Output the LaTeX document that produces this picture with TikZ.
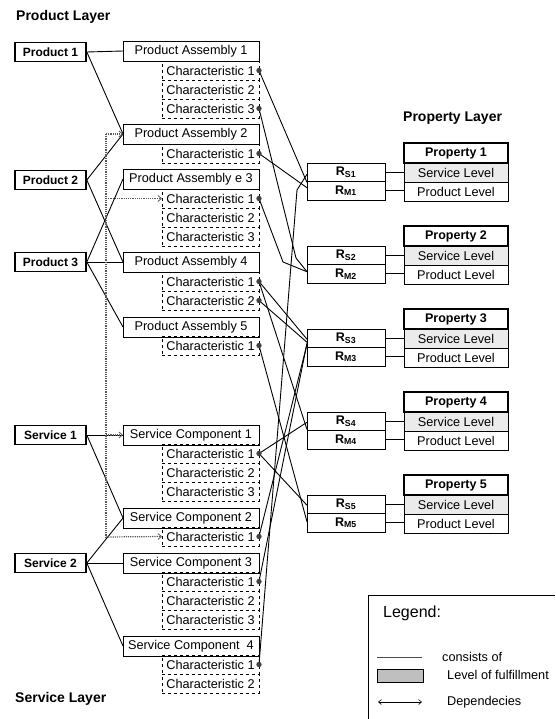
\documentclass[tikz,border=0pt]{standalone}
\usepackage{fontspec}
\setmainfont{Liberation Sans}
\usetikzlibrary{arrows.meta,positioning}

\begin{document}
\begin{tikzpicture}[x=1pt,y=-1pt]
\tikzstyle{layer}=[anchor=west,inner sep=0pt,font=\fontsize{14}{16}\selectfont\bfseries]
\tikzstyle{top}=[draw,line width=1.6pt,minimum width=71pt,minimum height=19pt,inner sep=0pt,font=\fontsize{12}{14}\selectfont\bfseries]
\tikzstyle{part}=[draw,line width=0.9pt,anchor=north west,minimum width=136pt,minimum height=20pt,inner sep=0pt,outer sep=0pt,font=\fontsize{12.7}{14}\selectfont]
\tikzstyle{feat}=[draw,dashed,line width=0.7pt,anchor=north west,minimum width=97pt,minimum height=19pt,inner sep=0pt,outer sep=0pt,font=\fontsize{12.7}{14}\selectfont]
\tikzstyle{rbox}=[draw,line width=0.9pt,anchor=north west,minimum width=78pt,minimum height=18.5pt,inner sep=0pt,outer sep=0pt,font=\fontsize{12.5}{14}\selectfont\bfseries]
\tikzstyle{prop}=[draw,line width=1.5pt,anchor=north west,minimum width=104pt,minimum height=20pt,inner sep=0pt,outer sep=0pt,font=\fontsize{12.5}{14}\selectfont\bfseries]
\tikzstyle{lvl}=[draw,line width=0.9pt,minimum width=104pt,minimum height=19pt,inner sep=0pt,outer sep=0pt,font=\fontsize{12.7}{14}\selectfont]
\tikzstyle{met}=[lvl,fill=black!8]
\tikzstyle{link}=[line width=0.9pt]
\tikzstyle{dep}=[densely dotted,line width=1.2pt,black!65,-{Straight Barb[length=3.5pt,width=6pt,line width=0.8pt]}]
\tikzstyle{pin}=[fill=black!75]
\tikzstyle{key}=[anchor=west,inner sep=0pt,font=\fontsize{12.7}{14}\selectfont]
\useasboundingbox (0,0) rectangle (555,719);

% layer titles
\node[layer] (plabel) at (16,17) {Product Layer};
\node[layer] (slabel) at (15,699) {Service Layer};
\node[layer] (qlabel) at (403,118) {Property Layer};

% products and services
\node[top] (prod1) at (50.5,52) {Product 1};
\node[top] (prod2) at (50.5,180) {Product 2};
\node[top] (prod3) at (50.5,262) {Product 3};
\node[top] (serv1) at (50.5,435) {Service 1};
\node[top] (serv2) at (50.5,563) {Service 2};

% assemblies and their characteristics
\node[part] (pa1) at (123,41) {Product Assembly 1};
\node[feat] (pa1c1) at (162,61) {Characteristic 1};
\node[feat] (pa1c2) at (162,80) {Characteristic 2};
\node[feat] (pa1c3) at (162,99) {Characteristic 3};
\node[part] (pa2) at (123,124) {Product Assembly 2};
\node[feat] (pa2c1) at (162,144) {Characteristic 1};
\node[part] (pa3) at (123,169) {Product Assembly e 3};
\node[feat] (pa3c1) at (162,189) {Characteristic 1};
\node[feat] (pa3c2) at (162,208) {Characteristic 2};
\node[feat] (pa3c3) at (162,227) {Characteristic 3};
\node[part] (pa4) at (123,252) {Product Assembly 4};
\node[feat] (pa4c1) at (162,272) {Characteristic 1};
\node[feat] (pa4c2) at (162,291) {Characteristic 2};
\node[part] (pa5) at (123,317) {Product Assembly 5};
\node[feat] (pa5c1) at (162,336) {Characteristic 1};

% service components and their characteristics
\node[part] (sc1) at (123,425) {Service Component 1};
\node[feat] (sc1c1) at (162,444) {Characteristic 1};
\node[feat] (sc1c2) at (162,463) {Characteristic 2};
\node[feat] (sc1c3) at (162,482) {Characteristic 3};
\node[part] (sc2) at (123,508) {Service Component 2};
\node[feat] (sc2c1) at (162,527) {Characteristic 1};
\node[part] (sc3) at (123,553) {Service Component 3};
\node[feat] (sc3c1) at (162,572) {Characteristic 1};
\node[feat] (sc3c2) at (162,591) {Characteristic 2};
\node[feat] (sc3c3) at (162,610) {Characteristic 3};
\node[part] (sc4) at (123,636) {Service Component \ 4};
\node[feat] (sc4c1) at (162,655) {Characteristic 1};
\node[feat] (sc4c2) at (162,674) {Characteristic 2};

% properties with their two levels
\node[prop] (q1) at (404,143) {Property 1};
\node[met,below=0pt of q1] (q1s) {Service Level};
\node[lvl,below=0pt of q1s] (q1p) {Product Level};
\node[prop] (q2) at (404,226) {Property 2};
\node[met,below=0pt of q2] (q2s) {Service Level};
\node[lvl,below=0pt of q2s] (q2p) {Product Level};
\node[prop] (q3) at (404,309) {Property 3};
\node[met,below=0pt of q3] (q3s) {Service Level};
\node[lvl,below=0pt of q3s] (q3p) {Product Level};
\node[prop] (q4) at (404,392) {Property 4};
\node[met,below=0pt of q4] (q4s) {Service Level};
\node[lvl,below=0pt of q4s] (q4p) {Product Level};
\node[prop] (q5) at (404,475) {Property 5};
\node[met,below=0pt of q5] (q5s) {Service Level};
\node[lvl,below=0pt of q5s] (q5p) {Product Level};

% rating boxes
\node[rbox] (rs1) at (307,163) {R\textsubscript{S1}};
\node[rbox,below=0pt of rs1] (rm1) {R\textsubscript{M1}};
\node[rbox] (rs2) at (307,246) {R\textsubscript{S2}};
\node[rbox,below=0pt of rs2] (rm2) {R\textsubscript{M2}};
\node[rbox] (rs3) at (307,329) {R\textsubscript{S3}};
\node[rbox,below=0pt of rs3] (rm3) {R\textsubscript{M3}};
\node[rbox] (rs4) at (307,412) {R\textsubscript{S4}};
\node[rbox,below=0pt of rs4] (rm4) {R\textsubscript{M4}};
\node[rbox] (rs5) at (307,495) {R\textsubscript{S5}};
\node[rbox,below=0pt of rs5] (rm5) {R\textsubscript{M5}};

\draw[link] (rs1.east) -- (rs1.east -| q1s.west);
\draw[link] (rm1.east) -- (rm1.east -| q1p.west);
\draw[link] (rs2.east) -- (rs2.east -| q2s.west);
\draw[link] (rm2.east) -- (rm2.east -| q2p.west);
\draw[link] (rs3.east) -- (rs3.east -| q3s.west);
\draw[link] (rm3.east) -- (rm3.east -| q3p.west);
\draw[link] (rs4.east) -- (rs4.east -| q4s.west);
\draw[link] (rm4.east) -- (rm4.east -| q4p.west);
\draw[link] (rs5.east) -- (rs5.east -| q5s.west);
\draw[link] (rm5.east) -- (rm5.east -| q5p.west);

% consists of
\draw[link] (prod1.east) -- (pa1.west);
\draw[link] (prod1.east) -- (pa2.west);
\draw[link] (prod2.east) -- (pa2.west);
\draw[link] (prod2.east) -- (pa4.west);
\draw[link] (prod3.east) -- (pa3.west);
\draw[link] (prod3.east) -- (pa4.west);
\draw[link] (prod3.east) -- (pa5.west);
\draw[link] (serv1.east) -- (sc1.west);
\draw[link] (serv1.east) -- (sc2.west);
\draw[link] (serv2.east) -- (sc2.west);
\draw[link] (serv2.east) -- (sc3.west);
\draw[link] (serv2.east) -- (sc4.west);

% dependencies
\coordinate (bt) at (106,134);
\coordinate (bb) at (106,537);
\draw[dep,-] (bt) -- (bb);
\draw[dep] (bt) -- (pa2.west);
\draw[dep] (pa3c1.west -| bt) -- (pa3c1.west);
\draw[dep] (sc1.west -| bt) -- (sc1.west);
\draw[dep] (bb) -- (sc2c1.west);

% characteristics to ratings
\draw[link] (pa1c1.east) -- ([yshift=-1pt]rm1.north west);
\draw[link] (pa2c1.east) -- ([yshift=3pt]rm1.west);
\draw[link] (pa1c3.east) -- (296,258) -- ([yshift=2pt]rm2.west);
\draw[link] (pa3c1.east) -- (283,262) -- ([yshift=2pt]rm2.west);
\draw[link] (pa4c1.east) -- ([yshift=-1pt]rs3.west);
\draw[link] (pa4c1.east) -- ([yshift=1pt]rm4.north west);
\draw[link] (pa4c2.east) -- ([yshift=-4pt]rs3.west);
\draw[link] (pa5c1.east) -- ([yshift=1pt]rm5.west);
\draw[link] (sc1c1.east) -- ([yshift=-1pt]rs4.west);
\draw[link] (sc1c1.east) -- ([yshift=-1pt]rs5.west);
\draw[link] (sc2c1.east) -- ([yshift=-6pt]rs3.west);
\draw[link] (sc3c1.east) -- ([yshift=-5pt]rs3.west);
\draw[link] (sc4c1.east) -- (297,190) -- ([yshift=-2pt]rs1.west);

\fill[pin] (pa1c1.east) circle (2.7pt);
\fill[pin] (pa1c3.east) circle (2.7pt);
\fill[pin] (pa2c1.east) circle (2.7pt);
\fill[pin] (pa3c1.east) circle (2.7pt);
\fill[pin] (pa4c1.east) circle (2.7pt);
\fill[pin] (pa4c2.east) circle (2.7pt);
\fill[pin] (pa5c1.east) circle (2.7pt);
\fill[pin] (sc1c1.east) circle (2.7pt);
\fill[pin] (sc2c1.east) circle (2.7pt);
\fill[pin] (sc3c1.east) circle (2.7pt);
\fill[pin] (sc4c1.east) circle (2.7pt);

% legend
\draw[line width=0.9pt] (555,595) -- (368,595) -- (368,719);
\node[anchor=west,inner sep=0pt,font=\fontsize{16}{18}\selectfont] (lgd) at (383,613) {Legend:};
\coordinate (l1a) at (377,657);
\coordinate (l1b) at (422,657);
\draw[line width=0.6pt,black!70] (l1a) -- (l1b);
\node[key] (lt1) at (442,657) {consists of};
\node[draw,fill=black!25,line width=0.6pt,minimum width=46pt,minimum height=13pt,inner sep=0pt] (lbox) at (400,675.5) {};
\node[key] (lt2) at (447,675) {Level of fulfillment};
\coordinate (l3a) at (378,702);
\coordinate (l3b) at (422,702);
\draw[line width=0.6pt,{Straight Barb[length=3pt,width=5pt]}-{Straight Barb[length=3pt,width=5pt]}] (l3a) -- (l3b);
\node[key] (lt3) at (447,702) {Dependecies};
\end{tikzpicture}
\end{document}
